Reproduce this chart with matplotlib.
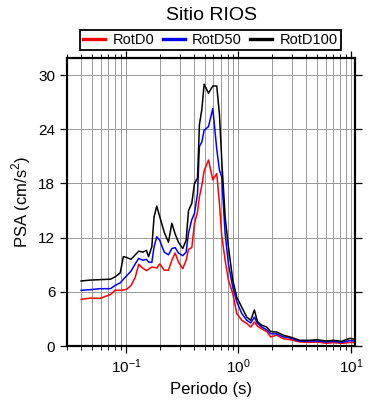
import matplotlib
matplotlib.use("Agg")
import matplotlib.pyplot as plt
from matplotlib.ticker import LogLocator, NullFormatter

plt.rcParams['font.family'] = ['Liberation Sans', 'DejaVu Sans']
plt.rcParams['mathtext.fontset'] = 'custom'
plt.rcParams['mathtext.rm'] = 'Liberation Sans'

# periods (s) shared by the three components
periodo = [0.040, 0.048, 0.059, 0.073, 0.080, 0.089, 0.095, 0.102, 0.111, 0.121,
           0.130, 0.142, 0.152, 0.159, 0.170, 0.178, 0.188, 0.200, 0.219, 0.239,
           0.256, 0.274, 0.293, 0.320, 0.343, 0.360, 0.385, 0.407, 0.433, 0.450,
           0.473, 0.496, 0.542, 0.592, 0.642, 0.678, 0.711, 0.762, 0.815, 0.891,
           0.967, 1.071, 1.186, 1.287, 1.387, 1.475, 1.611, 1.784, 1.936, 2.189,
           2.508, 2.874, 3.526, 4.326, 4.960, 6.080, 6.970, 8.260, 9.800, 10.85]

rotd100 = [7.2, 7.3, 7.35, 7.4, 7.65, 8.1, 9.9, 9.8, 9.6, 10.1,
           10.5, 10.4, 10.6, 9.9, 11.0, 14.3, 15.5, 14.3, 12.6, 11.5,
           13.6, 12.4, 11.5, 10.8, 11.7, 15.0, 15.8, 18.0, 18.6, 24.5,
           26.2, 29.0, 28.0, 28.8, 28.8, 25.7, 20.6, 14.3, 11.0, 7.3,
           5.4, 4.3, 3.2, 2.85, 4.0, 2.7, 2.3, 2.1, 1.6, 1.55,
           1.2, 1.0, 0.63, 0.63, 0.7, 0.55, 0.63, 0.52, 0.85, 0.74]

rotd50 = [6.17, 6.24, 6.35, 6.35, 6.7, 7.0, 7.4, 7.8, 8.3, 9.1,
          9.7, 9.5, 9.6, 9.3, 9.25, 11.0, 12.1, 11.7, 10.4, 10.1,
          10.8, 10.9, 10.3, 10.0, 10.4, 12.5, 14.0, 14.7, 16.9, 22.1,
          22.6, 23.9, 24.3, 26.3, 21.8, 19.5, 18.7, 12.45, 9.1, 6.5,
          4.9, 3.6, 2.85, 2.55, 3.2, 2.5, 2.1, 1.8, 1.35, 1.35,
          1.0, 0.9, 0.52, 0.55, 0.55, 0.45, 0.5, 0.4, 0.6, 0.55]

rotd0 = [5.17, 5.3, 5.28, 5.7, 6.17, 6.17, 6.2, 6.3, 6.7, 7.6,
         9.05, 8.6, 8.35, 8.5, 8.75, 8.7, 8.64, 9.1, 8.4, 8.4,
         9.5, 10.3, 9.3, 8.57, 9.5, 10.7, 10.9, 13.6, 14.85, 16.5,
         17.8, 19.4, 20.6, 18.4, 19.1, 15.8, 12.2, 9.5, 7.3, 5.8,
         3.6, 2.85, 2.5, 2.1, 2.66, 2.2, 1.9, 1.6, 1.0, 1.2,
         0.8, 0.7, 0.45, 0.4, 0.45, 0.3, 0.37, 0.3, 0.4, 0.37]

y_ticks = [0, 6, 12, 18, 24, 30]

fig = plt.figure(figsize=(3.9, 4.0), dpi=100)
ax = fig.add_axes([0.172, 0.135, 0.738, 0.72])

ax.plot(periodo, rotd0, color='red', lw=1.1, label='RotD0')
ax.plot(periodo, rotd50, color='blue', lw=1.1, label='RotD50')
ax.plot(periodo, rotd100, color='black', lw=1.1, label='RotD100')

ax.set_xscale('log')
ax.set_xlim(0.03, 10.85)
ax.set_ylim(0, 31.9)
ax.set_yticks(y_ticks)
ax.xaxis.set_minor_locator(LogLocator(base=10, subs=range(2, 10), numticks=20))
ax.xaxis.set_minor_formatter(NullFormatter())

ax.grid(True, which='both', axis='x', color='#999999', lw=0.7)
ax.grid(True, which='major', axis='y', color='#999999', lw=0.7)
ax.set_axisbelow(True)

for s in ax.spines.values():
    s.set_linewidth(1.6)
ax.tick_params(which='both', direction='out', top=True, right=True, labelsize=11)
ax.tick_params(which='major', length=5, width=0.9)
ax.tick_params(which='minor', length=3, width=0.7)

ax.set_xlabel('Periodo (s)', fontsize=12)
ax.set_ylabel('PSA (cm/s$^2$)', fontsize=12)
fig.text(0.542, 0.962, 'Sitio RIOS', ha='center', va='center', fontsize=14)

leg = fig.legend(loc='center', bbox_to_anchor=(0.187, 0.875, 0.705, 0.05),
                 mode='expand', ncol=3, fontsize=10.5, handlelength=1.5,
                 fancybox=False, edgecolor='black', borderpad=0.2,
                 handletextpad=0.5, framealpha=1)
leg.get_frame().set_linewidth(1.3)
for l in leg.get_lines():
    l.set_linewidth(2.4)

fig.savefig('out.png', dpi=100)
